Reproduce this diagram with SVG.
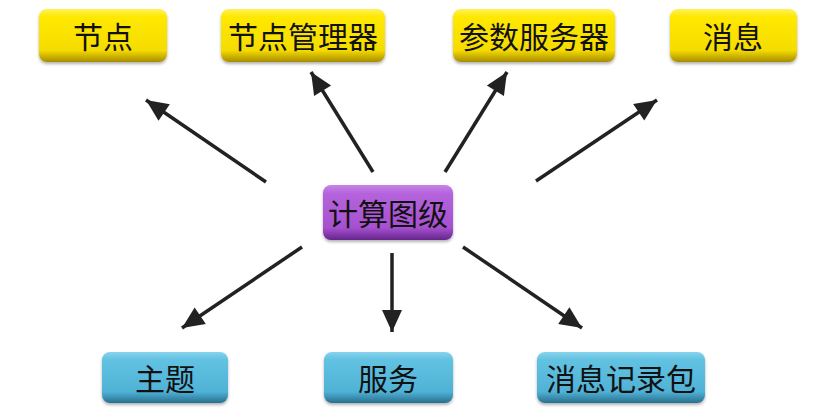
<svg xmlns="http://www.w3.org/2000/svg" width="826" height="411" viewBox="0 0 826 411">
<style>
.lbl{font-family:"Noto Sans CJK SC","Noto Sans",sans-serif;font-size:30px;fill:#111;text-anchor:middle;dominant-baseline:central}
.y{fill:url(#gy)}
.p{fill:url(#gp)}
.b{fill:url(#gb)}
.box{filter:url(#sh)}
.con{stroke:#222;stroke-width:3.5;fill:none;marker-end:url(#ah)}
</style>
<defs>
<linearGradient id="gy" x1="0" y1="0" x2="0" y2="1">
<stop offset="0" stop-color="#fff25a"/>
<stop offset="0.15" stop-color="#ffe800"/>
<stop offset="0.78" stop-color="#f5dc00"/>
<stop offset="1" stop-color="#a88c00"/>
</linearGradient>
<linearGradient id="gp" x1="0" y1="0" x2="0" y2="1">
<stop offset="0" stop-color="#c784e6"/>
<stop offset="0.15" stop-color="#b564dc"/>
<stop offset="0.78" stop-color="#a650d0"/>
<stop offset="1" stop-color="#64268a"/>
</linearGradient>
<linearGradient id="gb" x1="0" y1="0" x2="0" y2="1">
<stop offset="0" stop-color="#86d3ec"/>
<stop offset="0.15" stop-color="#62c2e2"/>
<stop offset="0.78" stop-color="#4fb2d6"/>
<stop offset="1" stop-color="#286f8e"/>
</linearGradient>
<filter id="sh" x="-10%" y="-20%" width="120%" height="150%">
<feDropShadow dx="0" dy="2" stdDeviation="1.5" flood-color="#000" flood-opacity="0.3"/>
</filter>
<marker id="ah" markerUnits="userSpaceOnUse" markerWidth="26" markerHeight="26" viewBox="0 0 26 26" refX="24" refY="13" orient="auto">
<path d="M2,3 L24,13 L2,23 z" fill="#222"/>
</marker>
</defs>
<g id="connectors">
<line class="con" x1="266" y1="182" x2="146" y2="100"/>
<line class="con" x1="373" y1="172" x2="311" y2="72"/>
<line class="con" x1="445" y1="172" x2="507" y2="72"/>
<line class="con" x1="536" y1="181" x2="657" y2="100"/>
<line class="con" x1="302" y1="247" x2="182" y2="328"/>
<line class="con" x1="392" y1="253" x2="392" y2="332"/>
<line class="con" x1="463" y1="247" x2="582" y2="328"/>
</g>
<g id="n1"><rect class="box y" x="39" y="9" width="128" height="53" rx="8"/><text class="lbl" x="103" y="35">节点</text></g>
<g id="n2"><rect class="box y" x="221" y="9" width="164" height="53" rx="8"/><text class="lbl" x="303" y="35">节点管理器</text></g>
<g id="n3"><rect class="box y" x="453" y="9" width="162" height="53" rx="8"/><text class="lbl" x="534" y="35">参数服务器</text></g>
<g id="n4"><rect class="box y" x="670" y="9" width="127" height="53" rx="8"/><text class="lbl" x="733" y="35">消息</text></g>
<g id="center"><rect class="box p" x="323" y="185" width="130" height="55" rx="8"/><text class="lbl" x="388" y="212">计算图级</text></g>
<g id="n5"><rect class="box b" x="102" y="352" width="126" height="51" rx="8"/><text class="lbl" x="165" y="377">主题</text></g>
<g id="n6"><rect class="box b" x="324" y="352" width="129" height="51" rx="8"/><text class="lbl" x="388" y="377">服务</text></g>
<g id="n7"><rect class="box b" x="537" y="352" width="168" height="51" rx="8"/><text class="lbl" x="621" y="377">消息记录包</text></g>
</svg>
